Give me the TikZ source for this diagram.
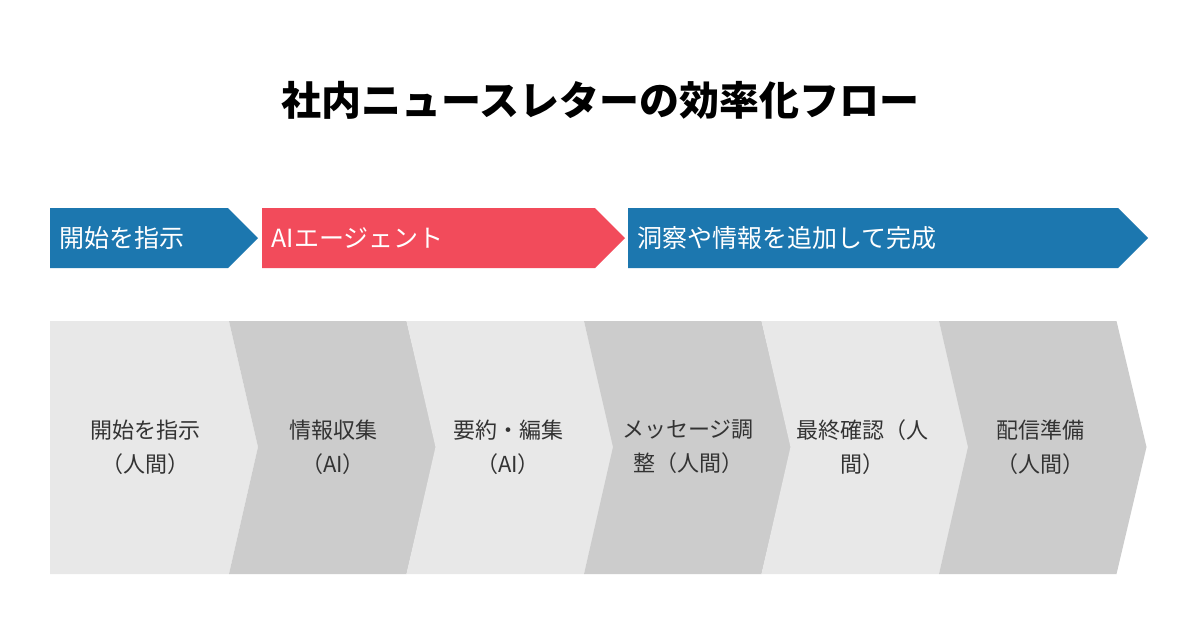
\documentclass[tikz,border=0pt]{standalone}
\usepackage{fontspec}
\setmainfont{Noto Sans CJK JP}
\definecolor{blu}{HTML}{1C77AF}
\definecolor{rd}{HTML}{F24B5B}
\definecolor{lg}{HTML}{E8E8E8}
\definecolor{dg}{HTML}{CCCCCC}
\definecolor{tx}{HTML}{333333}
\begin{document}
\begin{tikzpicture}[x=1pt,y=-1pt,
 lab/.style={text=white,font=\fontsize{25}{30}\selectfont,anchor=west},
 step6/.style={text=tx,font=\fontsize{22}{34}\selectfont,align=center}]
\useasboundingbox[fill=white] (0,0) rectangle (1200,630);
\node[font=\fontsize{40}{48}\selectfont\bfseries] (title) at (600,100) {社内ニュースレターの効率化フロー};
% top arrows
\fill[blu] (50,208) -- (228,208) -- (258,238) -- (228,268) -- (50,268) -- cycle;
\fill[rd] (262,208) -- (595,208) -- (625,238) -- (595,268) -- (262,268) -- cycle;
\fill[blu] (628,208) -- (1118,208) -- (1148,238) -- (1118,268) -- (628,268) -- cycle;
\node[lab] (a1) at (56,238) {開始を指示};
\node[lab] (a2) at (268,238) {AIエージェント};
\node[lab] (a3) at (634,238) {洞察や情報を追加して完成};
% chevrons
\fill[lg] (50,321) -- (229,321) -- (258,447) -- (229,574) -- (50,574) -- cycle;
\foreach \i/\c in {1/dg,2/lg,3/dg,4/lg,5/dg}{
 \pgfmathsetmacro\xa{229+177.5*(\i-1)}
 \pgfmathsetmacro\xb{\xa+177.5}
 \fill[\c] (\xa,321) -- (\xb,321) -- (\xb+30,447) -- (\xb,574) -- (\xa,574) -- (\xa+29,447) -- cycle;}
\node[step6] (s1) at (145,447) {開始を指示\\（人間）};
\node[step6] (s2) at (333,447) {情報収集\\（AI）};
\node[step6] (s3) at (508,447) {要約・編集\\（AI）};
\node[step6] (s4) at (688,447) {メッセージ調\\整（人間）};
\node[step6] (s5) at (862,447) {最終確認（人\\間）};
\node[step6] (s6) at (1040,447) {配信準備\\（人間）};
\end{tikzpicture}
\end{document}
